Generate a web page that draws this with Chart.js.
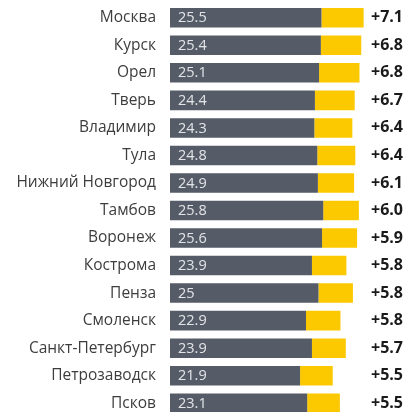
<!DOCTYPE html>
<html>
<head>
<meta charset="utf-8">
<script src="https://cdn.jsdelivr.net/npm/chart.js@4"></script>
<style>
  html, body { margin: 0; padding: 0; background: #fff; overflow: hidden; }
  #wrap { position: relative; width: 411px; height: 417px; }
</style>
</head>
<body>
<div id="wrap"><canvas id="c"></canvas></div>
<script>
const cities = ['Москва', 'Курск', 'Орел', 'Тверь', 'Владимир', 'Тула', 'Нижний Новгород', 'Тамбов', 'Воронеж', 'Кострома', 'Пенза', 'Смоленск', 'Санкт-Петербург', 'Петрозаводск', 'Псков'];
const baseValues = [25.5, 25.4, 25.1, 24.4, 24.3, 24.8, 24.9, 25.8, 25.6, 23.9, 25, 22.9, 23.9, 21.9, 23.1];
const growth = [7.1, 6.8, 6.8, 6.7, 6.4, 6.4, 6.1, 6.0, 5.9, 5.8, 5.8, 5.8, 5.7, 5.5, 5.5];
const growthLabels = ['+7.1', '+6.8', '+6.8', '+6.7', '+6.4', '+6.4', '+6.1', '+6.0', '+5.9', '+5.8', '+5.8', '+5.8', '+5.7', '+5.5', '+5.5'];
const baseLabels = ['25.5', '25.4', '25.1', '24.4', '24.3', '24.8', '24.9', '25.8', '25.6', '23.9', '25', '22.9', '23.9', '21.9', '23.1'];

// Writes the base value inside each grey bar and the increase to the right of the plot
const barText = {
  id: 'barText',
  afterDatasetsDraw(chart) {
    const ctx = chart.ctx;
    const area = chart.chartArea;
    const baseMeta = chart.getDatasetMeta(0);
    ctx.save();
    ctx.textBaseline = 'middle';
    baseMeta.data.forEach((bar, i) => {
      ctx.font = '14.5px "Open Sans"';
      ctx.fillStyle = '#e3e4e8';
      ctx.textAlign = 'left';
      ctx.fillText(baseLabels[i], bar.base + 8, bar.y + 0.5);
      ctx.font = 'bold 16px "Open Sans"';
      ctx.fillStyle = '#1a1a1a';
      ctx.fillText(growthLabels[i], area.right + 5, bar.y);
    });
    ctx.restore();
  }
};

new Chart(document.getElementById('c'), {
  type: 'bar',
  data: {
    labels: cities,
    datasets: [
      { data: baseValues, backgroundColor: '#565c67', borderWidth: 0 },
      { data: growth, backgroundColor: '#fcc900', borderWidth: 0 }
    ]
  },
  options: {
    indexAxis: 'y',
    responsive: true,
    maintainAspectRatio: false,
    animation: false,
    categoryPercentage: 1,
    barPercentage: 0.71,
    layout: { padding: { top: 4, bottom: 0, left: 0, right: 45 } },
    plugins: { legend: { display: false }, tooltip: { enabled: false } },
    scales: {
      x: { stacked: true, display: false, min: 0, max: 33 },
      y: {
        stacked: true,
        grid: { display: false },
        border: { display: false },
        ticks: {
          color: '#3d3d3d',
          font: { family: 'Open Sans', size: 15.5 },
          padding: 6,
          autoSkip: false
        },
        afterFit(scale) {
          scale.width = 170;
          scale.paddingTop = 0;
          scale.paddingBottom = 0;
        }
      }
    }
  },
  plugins: [barText]
});
</script>
</body>
</html>
